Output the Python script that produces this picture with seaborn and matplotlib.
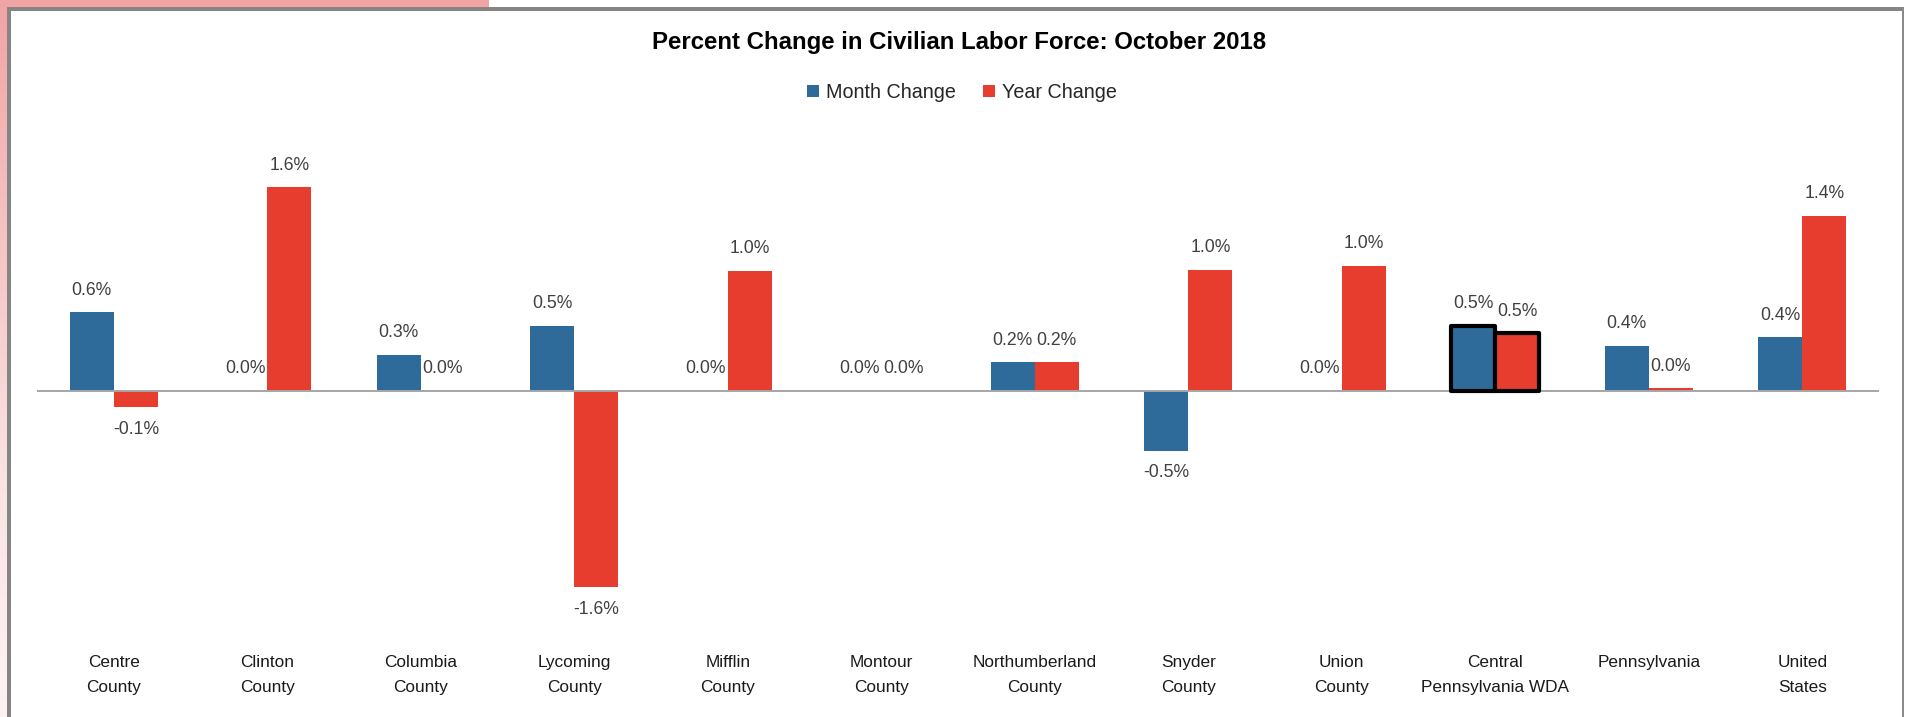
import matplotlib
matplotlib.use("Agg")
import matplotlib.pyplot as plt
from matplotlib import font_manager
from matplotlib.colors import LinearSegmentedColormap
from matplotlib.patches import Rectangle, Patch
import numpy as np
import pandas as pd
import seaborn as sns

# ---- data -------------------------------------------------------------
categories = [
    "Centre\nCounty", "Clinton\nCounty", "Columbia\nCounty", "Lycoming\nCounty",
    "Mifflin\nCounty", "Montour\nCounty", "Northumberland\nCounty", "Snyder\nCounty",
    "Union\nCounty", "Central\nPennsylvania WDA", "Pennsylvania", "United\nStates",
]
month_change = [0.63, 0.00, 0.29, 0.52, 0.00, 0.00, 0.23, -0.48, 0.00, 0.52, 0.36, 0.43]
year_change = [-0.13, 1.63, 0.00, -1.57, 0.96, 0.00, 0.23, 0.97, 1.00, 0.46, 0.02, 1.40]
series = ["Month Change", "Year Change"]
colors = ["#2e6b9b", "#e73d2e"]
highlight = "Central\nPennsylvania WDA"
title = "Percent Change in Civilian Labor Force: October 2018"

# ---- style ------------------------------------------------------------
sns.set_style("white")
plt.rcParams["font.family"] = ["Liberation Sans", "DejaVu Sans"]

try:
    font_manager.findfont(font_manager.FontProperties(family="Liberation Sans Narrow"),
                          fallback_to_default=False)
    cat_family, cat_size = ["Liberation Sans Narrow", "Liberation Sans"], 14.8
except ValueError:
    cat_family, cat_size = ["Liberation Sans", "DejaVu Sans"], 12.4

W, H = 1908, 717
fig = plt.figure(figsize=(W / 100, H / 100), dpi=100)
fig.patch.set_facecolor("white")

# ---- page decoration: pink tab and grey frame --------------------------
bg = fig.add_axes([0, 0, 1, 1], zorder=-1)
bg.set_xlim(0, W)
bg.set_ylim(H, 0)
bg.axis("off")
pink = LinearSegmentedColormap.from_list("pink", ["#f1a4a4", "#f5c4c4", "#fae3e3", "#fdf3f3"])
bg.imshow(np.linspace(0, 1, 256).reshape(-1, 1), cmap=pink, extent=(0, 7, H, 0),
          aspect="auto", interpolation="bilinear")
bg.add_patch(Rectangle((0, 0), 489, 7, color="#f1a4a4", lw=0))
bg.add_patch(Rectangle((7, 7), 1897, 4, color="#858585", lw=0))
bg.add_patch(Rectangle((7, 7), 4, H, color="#858585", lw=0))
bg.add_patch(Rectangle((1902, 7), 2.5, H, color="#8a8a8a", lw=0))

# ---- bars -------------------------------------------------------------
df = pd.DataFrame({
    "area": categories * 2,
    "series": [series[0]] * len(categories) + [series[1]] * len(categories),
    "value": month_change + year_change,
})

ax = fig.add_axes([37 / W, 1 - 641 / H, (1879 - 37) / W, 500 / H])
ax.set_facecolor("none")
sns.barplot(data=df, x="area", y="value", hue="series", order=categories,
            hue_order=series, palette=colors, width=0.575, saturation=1,
            errorbar=None, legend=False, linewidth=0, ax=ax)
ax.set_ylim(-2.0, 2.0)
ax.axhline(0, color="#a6a6a6", lw=1.4, zorder=3)

hi = categories.index(highlight)
for cont, vals in zip(ax.containers, [month_change, year_change]):
    bar = cont[hi]
    bar.set_edgecolor("black")
    bar.set_linewidth(3.0)
    bar.set_joinstyle("round")
    bar.set_zorder(4)
    for b, v in zip(cont, vals):
        x = b.get_x() + b.get_width() / 2
        off = 22 if v >= 0 else -22
        ax.annotate(f"{v:.1f}%", xy=(x, v), xytext=(0, off), textcoords="offset pixels",
                    ha="center", va="center", fontsize=12.7, color="#404040")

for s in ax.spines.values():
    s.set_visible(False)
ax.set_yticks([])
ax.set_xlabel("")
ax.set_ylabel("")
ax.tick_params(axis="x", length=0, pad=10)
for lab in ax.get_xticklabels():
    lab.set_fontfamily(cat_family)
    lab.set_fontsize(cat_size)
    lab.set_linespacing(1.85)
    lab.set_color("#1a1a1a")

# ---- title and legend -------------------------------------------------
fig.text(959.5 / W, 1 - 42.6 / H, title, ha="center", va="center",
         fontsize=17.3, fontweight="bold", color="black")
handles = [Patch(facecolor=c, edgecolor="none", label=s) for c, s in zip(colors, series)]
fig.legend(handles=handles, loc="center", bbox_to_anchor=(962 / W, 1 - 92.5 / H), ncol=2,
           frameon=False, fontsize=14.2, handlelength=0.6, handleheight=0.6,
           handletextpad=0.35, columnspacing=1.4, labelcolor="#262626")

fig.savefig("out.png", dpi=100, facecolor="white")
